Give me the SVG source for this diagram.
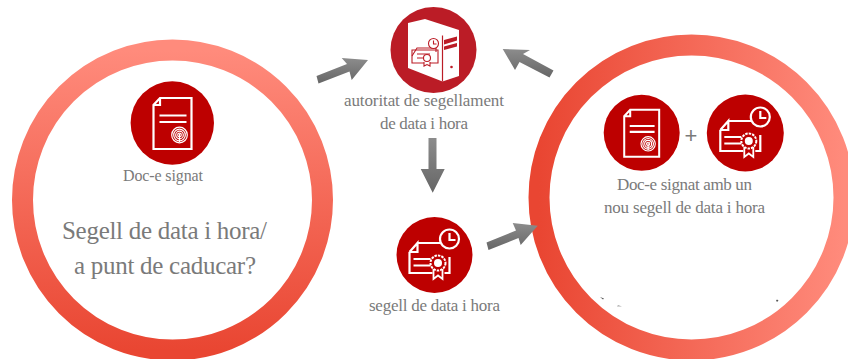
<svg xmlns="http://www.w3.org/2000/svg" width="848" height="359" viewBox="0 0 848 359">
<style>
text{font-family:"Liberation Serif","DejaVu Serif",serif;fill:#7a7a7a;text-anchor:start}
.i{fill:none;stroke:#fff;stroke-width:2.200}
.t{stroke-width:1.200}
.red{fill:#bd0000}
.arrow{fill:url(#ag)}
</style>
<defs>
<linearGradient id="lg" x1="0" y1="0" x2="0" y2="1"><stop offset="0" stop-color="#ff8b7c"/><stop offset="1" stop-color="#e94632"/></linearGradient>
<linearGradient id="rg" x1="0" y1="0" x2="1" y2="0"><stop offset="0" stop-color="#e94632"/><stop offset="1" stop-color="#ff8b7c"/></linearGradient>
<linearGradient id="ag" x1="0" y1="0" x2="0" y2="1"><stop offset="0" stop-color="#8c8c8c"/><stop offset="1" stop-color="#666"/></linearGradient>
<g id="doc">
<path class="i" d="M-12.500-25H19V26H-19V-18ZM-19-18H-12.500V-25"/>
<path class="i" d="M-13-7.500H14M-13-1H14"/>
<g class="i t"><circle cx="7" cy="12" r="1.800"/><circle cx="7" cy="12" r="3.800"/><circle cx="7" cy="12" r="5.800"/><circle cx="7" cy="12" r="7.800"/><path d="M7 11V19"/></g>
</g>
<g id="cert">
<path class="i" d="M-17-12H6M-25-3V18H-2M10 18H15V2M-25-3L-17-12V-3H-25"/>
<path class="i" d="M-21 4H-4M-21 10.500H-4"/>
<circle cx="15" cy="-16" r="9.500" fill="#bd0000" stroke="#fff" stroke-width="2.200"/>
<path class="i" d="M15-22V-15H21"/>
<path d="M-1 12V24L3.500 20.500L8 24V12" fill="#bd0000" stroke="#fff" stroke-width="1.800"/>
<circle cx="3.500" cy="8" r="7.500" fill="#bd0000" stroke="#fff" stroke-width="2" stroke-dasharray="2.500 1"/>
<circle cx="3.500" cy="8" r="4" fill="#fff"/>
</g>
</defs>
<rect width="848" height="359" fill="#fff"/>

<g id="ring-left"><circle cx="172.500" cy="200" r="150" fill="#fff" stroke="url(#lg)" stroke-width="21"/></g>
<g id="ring-right"><circle cx="691.500" cy="197.500" r="152.500" fill="#fff" stroke="url(#rg)" stroke-width="21"/>
<path d="M600 297l4 1.500-1 1zM618 305.500l4 .8h-5zM777 299.500l1.500 1-1.500 1.500-1-1.500z" fill="#555"/></g>

<g id="connectors">
<path class="arrow" d="M316.500 76L347 64L341.700 58L368 60L351.700 80L349.500 71.500L318.500 83.500Z"/>
<path class="arrow" d="M553.500 70.500L523 54L530 50L502.700 49L515 70L519.500 62L549.500 77.500Z"/>
<path class="arrow" d="M428.500 138H436.500V169H444.700L432.700 192.700L420.700 169H428.500Z"/>
<path class="arrow" d="M486.500 242.500L516 230.500L512.700 223L537.700 225.700L520.700 245L518.500 238L488.500 250Z"/>
</g>

<g id="node-signed-doc">
<circle class="red" cx="172.300" cy="123" r="41.700"/>
<use href="#doc" x="172.500" y="123"/>
<text x="123" y="180.500" font-size="16" textLength="80">Doc-e signat</text>
</g>
<g id="node-question">
<text x="62" y="239" font-size="25" textLength="205">Segell de data i hora/</text>
<text x="74" y="274" font-size="25" textLength="182">a punt de caducar?</text>
</g>
<g id="node-authority">
<circle cx="433.500" cy="50" r="43" fill="#bb1c26"/>
<path d="M408 23L425 19L459 30L459 76L442.500 81.500L408 68Z" fill="#fff"/>
<path d="M442.500 35.500V81.500" stroke="#bb1c26" stroke-width="1.200"/>
<path d="M444 40L457 36.500V40.500L444 44.500ZM444 46.500L457 43V46.500L444 50Z" fill="#bb1c26"/>
<circle cx="451.500" cy="67" r="1.300" fill="#bb1c26"/>
<g fill="#fff" stroke="#bb1c26" stroke-width="1.100">
<path d="M412 50H438V63H412Z"/>
<path d="M412 56L417 48H436V52" fill="none"/>
<path d="M417 54H430M417 58H426" fill="none"/>
<circle cx="433.500" cy="43.500" r="5"/>
<path d="M433.500 40.500V44H436.500" fill="none"/>
<path d="M424 62V66L427 64.500L430 66V62"/>
<circle cx="427" cy="58" r="3.500"/>
</g>
<text x="344" y="105.500" font-size="17" textLength="160">autoritat de segellament</text>
<text x="380" y="129" font-size="17" textLength="88">de data i hora</text>
</g>
<g id="node-timestamp">
<circle class="red" cx="434.500" cy="255" r="38"/>
<use href="#cert" x="434.500" y="255"/>
<text x="369" y="310.500" font-size="17" textLength="131">segell de data i hora</text>
</g>
<g id="node-result">
<circle class="red" cx="641.700" cy="132.800" r="38"/>
<use href="#doc" transform="translate(641.700 132.800) scale(.92)"/>
<text x="684.500" y="143" font-size="22" style="font-family:'Liberation Sans',sans-serif">+</text>
<circle class="red" cx="745.300" cy="133" r="38.500"/>
<use href="#cert" x="745.300" y="133"/>
<text x="617" y="190" font-size="17" textLength="135">Doc-e signat amb un</text>
<text x="604" y="213" font-size="17" textLength="161">nou segell de data i hora</text>
</g>
</svg>
